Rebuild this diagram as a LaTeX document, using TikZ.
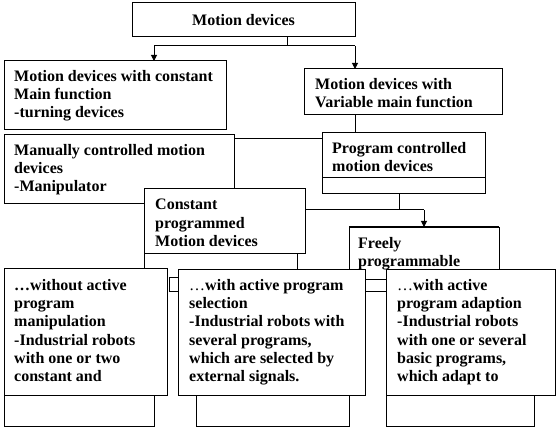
\documentclass[tikz,border=0pt]{standalone}
\usepackage{fontspec}
\setmainfont{Liberation Serif}
\usetikzlibrary{arrows.meta,calc}
\begin{document}
\begin{tikzpicture}[x=1pt,y=-1pt,
  box/.style={draw,line width=1pt,fill=white,rectangle,anchor=north west,inner sep=0pt,outer sep=0pt},
  txt/.style={anchor=north west,inner sep=0pt,align=left,font=\fontsize{16}{18.3}\selectfont\bfseries},
  conn/.style={line width=1pt},
  arr/.style={line width=1pt,-{Triangle[width=6pt,length=6pt]}}]
\useasboundingbox[fill=white] (0,0) rectangle (558,428);

% top box
\node[box,minimum width=223pt,minimum height=34pt] (top) at (132,3) {};
\node[txt,anchor=center] (toptxt) at (top.center) {Motion devices};

% second row
\node[box,minimum width=222pt,minimum height=69pt] (A) at (4,61) {};
\node[txt] (Atxt) at (14,70) {Motion devices with constant\\Main function\\-turning devices};
\node[box,minimum width=198pt,minimum height=46pt] (B) at (304,69) {};
\node[txt] (Btxt) at (315,78) {Motion devices with\\Variable main function};

\coordinate (tj) at ($(top.south west)+(155,9)$);
\draw[conn] ($(top.south west)+(155,0)$) -- (tj);
\coordinate (hl) at (154,46);
\coordinate (hr) at (355,46);
\draw[conn] (hl) -- (hr);
\draw[arr] (hl) -- (hl |- A.north);
\draw[arr] (hr) -- (hr |- B.north);

% third row
\node[box,minimum width=230pt,minimum height=69pt] (C) at (4,135) {};
\node[txt] (Ctxt) at (14,144) {Manually controlled motion\\devices\\-Manipulator};
\node[box,minimum width=163pt,minimum height=61pt] (D) at (322,133) {};
\node[txt] (Dtxt) at (332,142) {Program controlled\\motion devices};
\draw[conn] ($(D.north west)+(0,45)$) -- ($(D.north east)+(0,45)$);

\coordinate (bd) at ($(B.south west)+(51,0)$);
\draw[conn] (bd) -- (bd |- D.north);
\coordinate (cd) at ($(C.north east)+(0,4)$);
\draw[conn] (cd) -- (cd -| D.west);

% constant programmed
\node[box,minimum width=161pt,minimum height=64pt] (E) at (144,189) {};
\node[txt] (Etxt) at (155,199) {Constant\\programmed\\Motion devices};

% freely programmable
\node[box,minimum width=150pt,minimum height=52pt] (FR) at (349,227) {};
\draw[line width=2pt] (FR.north west) -- (FR.north east);
\node[txt] (FRtxt) at (358,237) {Freely\\programmable};

\coordinate (dd) at ($(D.south west)+(77,0)$);
\coordinate (ej) at ($(E.north east)+(0,21)$);
\draw[conn] (dd) -- (dd |- ej);
\draw[conn] (ej) -- (ej -| FR.north);
\draw[arr] (ej -| FR.north) -- (FR.north);

% back boxes
\node[box,minimum width=150pt,minimum height=126pt] (K1) at (4,300) {};
\node[box,minimum width=153pt,minimum height=126pt] (K2) at (196,300) {};
\node[box,minimum width=148pt,minimum height=126pt] (K3) at (386,300) {};

% small link rectangles
\node[box,minimum width=12pt,minimum height=14pt] (s1) at (169,277) {};
\node[box,minimum width=30pt,minimum height=12pt] (s2) at (360,279) {};

% front boxes
\node[box,minimum width=163pt,minimum height=127pt] (P1) at (4,268) {};
\node[txt] (P1txt) at (14,279) {…without active\\program\\manipulation\\-Industrial robots\\with one or two\\constant and};
\node[box,minimum width=187pt,minimum height=126pt] (P2) at (178,269) {};
\node[txt] (P2txt) at (189,279) {{\mdseries…}with active program\\selection\\-Industrial robots with\\several programs,\\which are selected by\\external signals.};
\node[box,minimum width=169pt,minimum height=126pt] (P3) at (386,269) {};
\node[txt] (P3txt) at (397,279) {{\mdseries…}with active\\program adaption\\-Industrial robots\\with one or several\\basic programs,\\which adapt to};

% lines from constant box down
\draw[conn] (E.south west) -- (E.south west |- P1.north);
\coordinate (e2) at ($(E.south east)+(-8,0)$);
\draw[conn] (e2) -- (e2 |- P2.north);
\end{tikzpicture}
\end{document}
